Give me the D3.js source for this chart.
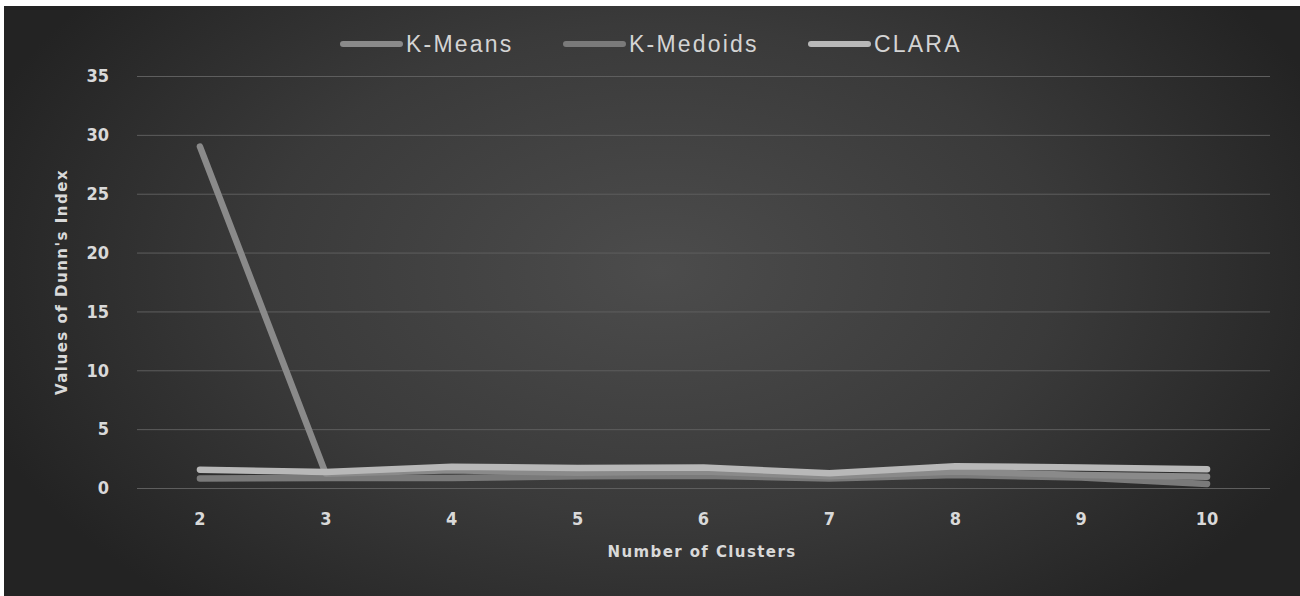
<!DOCTYPE html>
<html>
<head>
<meta charset="utf-8">
<script src="https://cdn.jsdelivr.net/npm/d3@7/dist/d3.min.js"></script>
<style>
  html, body { margin: 0; padding: 0; background: #ffffff; }
  svg { display: block; }
</style>
</head>
<body>
<svg id="chart" width="1300" height="596"></svg>
<script>
// Dunn's index per number of clusters for three clustering methods
const clusters = [2, 3, 4, 5, 6, 7, 8, 9, 10];
const kMeans   = [29.0, 1.2, 1.5, 1.3, 1.4, 1.0, 1.4, 1.1, 0.95];
const kMedoids = [0.8, 0.85, 0.85, 1.0, 1.05, 0.8, 1.1, 0.9, 0.35];
const clara    = [1.55, 1.35, 1.8, 1.7, 1.75, 1.25, 1.85, 1.75, 1.6];
const seriesNames = ["K-Means", "K-Medoids", "CLARA"];
const yTicks = [0, 5, 10, 15, 20, 25, 30, 35];

const seriesColors = { "K-Means": "#8a8a8a", "K-Medoids": "#7a7a7a", "CLARA": "#b8b8b8" };
const seriesData = { "K-Means": kMeans, "K-Medoids": kMedoids, "CLARA": clara };

const svg = d3.select("#chart");
const W = 1300, H = 596;

// Panel background: dark radial gradient
const defs = svg.append("defs");
const grad = defs.append("radialGradient")
  .attr("id", "bg").attr("gradientUnits", "userSpaceOnUse")
  .attr("cx", 660).attr("cy", 270).attr("r", 720)
  .attr("gradientTransform", "translate(660,270) scale(1,0.62) translate(-660,-270)");
grad.append("stop").attr("offset", "0%").attr("stop-color", "#4c4c4c");
grad.append("stop").attr("offset", "55%").attr("stop-color", "#3a3a3a");
grad.append("stop").attr("offset", "100%").attr("stop-color", "#232323");

svg.append("rect").attr("x", 4).attr("y", 6).attr("width", W - 4).attr("height", H - 6)
  .attr("fill", "url(#bg)");

const plot = { left: 137, right: 1270, top: 76, bottom: 488 };

const x = d3.scaleBand().domain(clusters).range([plot.left, plot.right]).padding(0);
const xc = d => x(d) + x.bandwidth() / 2;
const y = d3.scaleLinear().domain([0, 35]).range([plot.bottom, plot.top]);

// Horizontal gridlines
const yAxis = d3.axisLeft(y).tickValues(yTicks).tickSize(-(plot.right - plot.left)).tickPadding(28);
const gy = svg.append("g").attr("transform", `translate(${plot.left},0)`).call(yAxis);
gy.select(".domain").remove();
gy.selectAll(".tick line").attr("stroke", "#5e5e5e").attr("stroke-width", 1);
gy.selectAll(".tick text")
  .attr("fill", "#d9d9d9")
  .style("font-family", "'DejaVu Sans Condensed', 'DejaVu Sans', sans-serif")
  .style("font-weight", "bold").style("font-size", "18px");

// X axis labels
const xAxis = d3.axisBottom(x).tickSize(0).tickPadding(24);
const gx = svg.append("g").attr("transform", `translate(0,${plot.bottom})`).call(xAxis);
gx.select(".domain").remove();
gx.selectAll(".tick text")
  .attr("fill", "#d9d9d9")
  .style("font-family", "'DejaVu Sans Condensed', 'DejaVu Sans', sans-serif")
  .style("font-weight", "bold").style("font-size", "18px");

// Axis titles
svg.append("text")
  .attr("x", 702).attr("y", 557)
  .attr("text-anchor", "middle")
  .attr("fill", "#d9d9d9")
  .style("font-family", "'DejaVu Sans', sans-serif")
  .style("font-weight", "bold").style("font-size", "15px")
  .style("letter-spacing", "1.4px")
  .text("Number of Clusters");

svg.append("text")
  .attr("transform", "translate(67,282) rotate(-90)")
  .attr("text-anchor", "middle")
  .attr("fill", "#d9d9d9")
  .style("font-family", "'DejaVu Sans', sans-serif")
  .style("font-weight", "bold").style("font-size", "15px")
  .style("letter-spacing", "1.5px")
  .text("Values of Dunn's Index");

// Series lines
const line = d3.line()
  .x((d, i) => xc(clusters[i]))
  .y(d => y(d));

["K-Medoids", "K-Means", "CLARA"].forEach(name => {
  svg.append("path")
    .datum(seriesData[name])
    .attr("d", line)
    .attr("fill", "none")
    .attr("stroke", seriesColors[name])
    .attr("stroke-width", 6.5)
    .attr("stroke-linecap", "round")
    .attr("stroke-linejoin", "round");
});

// Legend
const legendItems = [
  { name: "K-Means", x: 340 },
  { name: "K-Medoids", x: 563 },
  { name: "CLARA", x: 808 }
];
const lg = svg.append("g");
legendItems.forEach(it => {
  lg.append("line")
    .attr("x1", it.x + 3).attr("x2", it.x + 60)
    .attr("y1", 44).attr("y2", 44)
    .attr("stroke", seriesColors[it.name]).attr("stroke-width", 6)
    .attr("stroke-linecap", "round");
  lg.append("text")
    .attr("x", it.x + 66).attr("y", 52)
    .attr("fill", "#d4d4d4")
    .style("font-family", "'Liberation Sans', Arial, sans-serif")
    .style("font-weight", "300").style("font-size", "23px")
    .style("letter-spacing", "2.2px")
    .text(it.name);
});
</script>
</body>
</html>
